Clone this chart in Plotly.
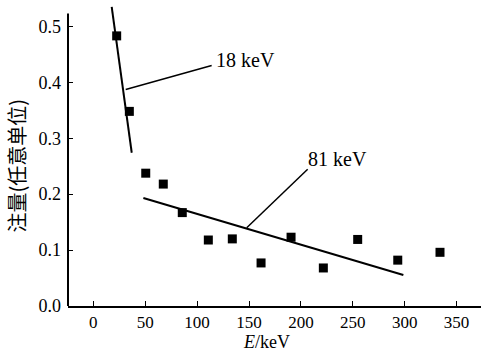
import plotly.graph_objects as go

# Measured data points
energy = [22.5, 34.7, 50.5, 67.4, 85.7, 110.8, 133.9, 161.6, 190.5, 221.6, 254.7, 293.3, 334.0]
fluence = [0.483, 0.348, 0.2375, 0.218, 0.167, 0.118, 0.120, 0.077, 0.123, 0.068, 0.119, 0.082, 0.096]

# Fitted lines
fit18_x = [17.7, 37.0]
fit18_y = [0.535, 0.274]
fit81_x = [48.2, 298.7]
fit81_y = [0.193, 0.0554]

# Leader lines for labels
lead18_x = [31.2, 114.0]
lead18_y = [0.387, 0.430]
lead81_x = [147.8, 206.5]
lead81_y = [0.1398, 0.2446]

x_ticks = [0, 50, 100, 150, 200, 250, 300, 350]
y_ticks = [0.0, 0.1, 0.2, 0.3, 0.4, 0.5]

FONT = "Times New Roman, Liberation Serif, serif"

fig = go.Figure()
for lx, ly in [(fit18_x, fit18_y), (fit81_x, fit81_y)]:
    fig.add_trace(go.Scatter(x=lx, y=ly, mode="lines",
                             line=dict(color="black", width=2), showlegend=False))
for lx, ly in [(lead18_x, lead18_y), (lead81_x, lead81_y)]:
    fig.add_trace(go.Scatter(x=lx, y=ly, mode="lines",
                             line=dict(color="black", width=1.5), showlegend=False))
fig.add_trace(go.Scatter(x=energy, y=fluence, mode="markers",
                         marker=dict(symbol="square", size=9, color="black"),
                         showlegend=False, cliponaxis=False))

fig.add_annotation(x=116, y=0.440, xref="x", yref="y", text="18 keV", showarrow=False,
                   xanchor="left", yanchor="middle", font=dict(family=FONT, size=20, color="black"))
fig.add_annotation(x=204.5, y=0.262, xref="x", yref="y", text="81 keV", showarrow=False,
                   xanchor="left", yanchor="middle", font=dict(family=FONT, size=20, color="black"))

fig.add_annotation(x=-0.1235, y=0.465, xref="paper", yref="paper", text="注量(任意单位)",
                   textangle=-90, showarrow=False, xanchor="center", yanchor="middle",
                   font=dict(family="Noto Sans CJK SC", size=20, color="black"))
fig.add_annotation(x=0.48, y=-0.155, xref="paper", yref="paper", text="<i>E</i>/keV",
                   showarrow=False, xanchor="center", yanchor="bottom", borderpad=0,
                   font=dict(family=FONT, size=18, color="black"))

# y-axis line (stops at top of axis)
fig.add_shape(type="line", xref="paper", yref="y", x0=0, x1=0, y0=0, y1=0.523,
              line=dict(color="black", width=2))

fig.update_layout(
    width=481, height=352,
    margin=dict(l=68, r=0, t=4, b=46),
    paper_bgcolor="white", plot_bgcolor="white",
    font=dict(family=FONT, size=18, color="black"),
    xaxis=dict(range=[-24.4, 373.5], tickvals=x_ticks, ticks="inside", ticklen=5,
               tickwidth=1, tickcolor="black", showline=True, linecolor="black",
               linewidth=2, showgrid=False, zeroline=False, ticklabelstandoff=0,
               tickfont=dict(family=FONT, size=17, color="black")),
    yaxis=dict(range=[0, 0.54], tickvals=y_ticks, tickformat=".1f", ticks="inside",
               ticklen=5, tickwidth=1, tickcolor="black", showline=False,
               showgrid=False, zeroline=False, ticklabelstandoff=6,
               tickfont=dict(family=FONT, size=18, color="black")),
)

fig.write_html("out.html", config={"displayModeBar": False},
               post_script="document.body.style.margin='0';document.body.style.overflow='hidden';")
